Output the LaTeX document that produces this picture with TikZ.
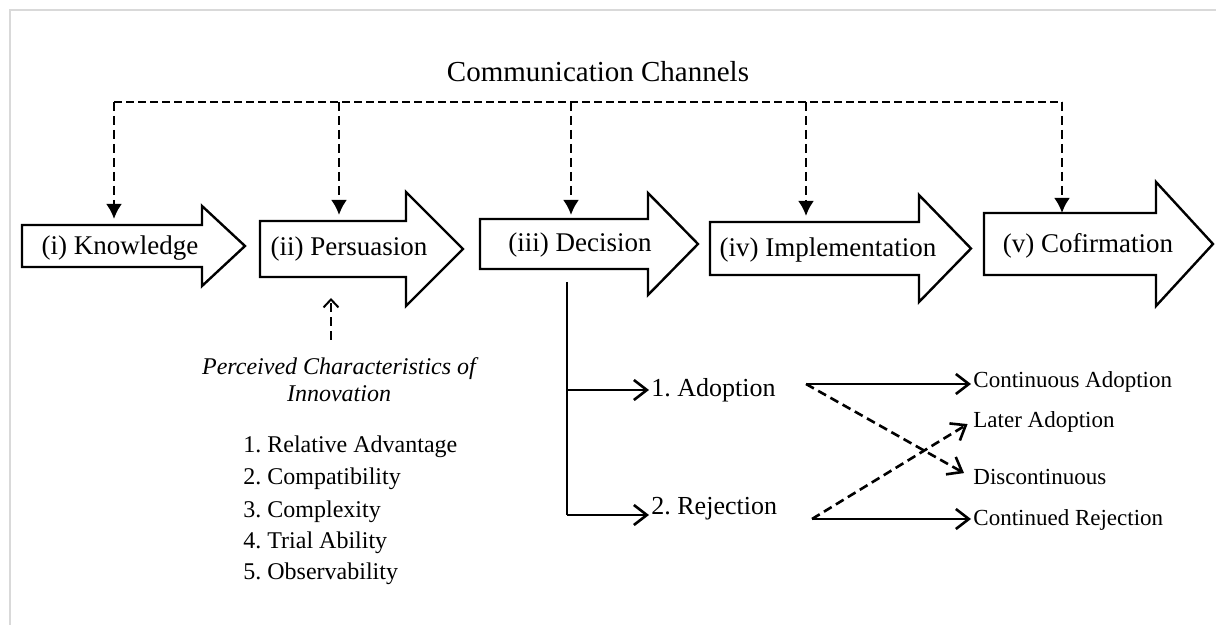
\documentclass[tikz,border=0pt]{standalone}
\usepackage{fontspec}
\setmainfont{Liberation Serif}
\frenchspacing
\usetikzlibrary{arrows.meta}

\tikzset{
  stagebody/.style={inner sep=0pt, outer sep=0pt},
  stageline/.style={line width=1.2pt, line join=miter},
  stagelabel/.style={font=\fontsize{13.5}{16}\selectfont, inner sep=0pt},
  chan/.style={line width=1.3pt, dash pattern=on 4.5pt off 2.5pt},
  branch/.style={line width=1.3pt},
  barb/.style={-{Straight Barb[length=6.5pt,width=10pt]}},
  choice/.style={anchor=west, inner sep=1pt, font=\fontsize{13}{15}\selectfont},
  outcome/.style={anchor=west, inner sep=1pt, font=\fontsize{11.5}{14}\selectfont},
  attr/.style={anchor=base west, inner sep=0pt, font=\fontsize{12}{14}\selectfont},
}

% stage arrow: name, body centre, body width, body height, head extend, head length
\newcommand\stagearrow[6]{%
  \node[stagebody, minimum width=#3, minimum height=#4] (#1) at (#2) {};
  \draw[stageline] (#1.north west) -- (#1.north east) -- ([yshift=#5]#1.north east)
    -- ([xshift=#6]#1.east) -- ([yshift=-#5]#1.south east) -- (#1.south east)
    -- (#1.south west) -- cycle;}

\begin{document}
\begin{tikzpicture}[x=0.5pt,y=-0.5pt]
    \useasboundingbox (0,0) rectangle (1216,625);
    \draw[black!15, line width=1pt] (10,625) -- (10,10) -- (1216,10);

    \stagearrow{knw}{112,246}{90pt}{21pt}{9.5pt}{21.5pt}
    \stagearrow{per}{333,249}{73pt}{28pt}{14.5pt}{28.5pt}
    \stagearrow{dec}{564,244}{84pt}{25pt}{13pt}{25pt}
    \stagearrow{imp}{814.5,248.5}{104.5pt}{26.5pt}{13.5pt}{26pt}
    \stagearrow{cof}{1070,244}{86pt}{31pt}{15.5pt}{28.5pt}

    \node[stagelabel] (knwlabel) at (120,248) {(i) Knowledge};
    \node[stagelabel] (perlabel) at (349,249) {(ii) Persuasion};
    \node[stagelabel] (declabel) at (580,245) {(iii) Decision};
    \node[stagelabel] (implabel) at (828,250) {(iv) Implementation};
    \node[stagelabel] (coflabel) at (1088,246) {(v) Cofirmation};

    % communication channels
    \node[font=\fontsize{14.5}{17}\selectfont] (cc) at (598,72) {Communication Channels};
    \coordinate (b1) at (114,102);
    \coordinate (b2) at (339,102);
    \coordinate (b3) at (571,102);
    \coordinate (b4) at (806,102);
    \coordinate (b5) at (1062,102);
    \draw[chan, dash pattern=on 4pt off 2pt] (b1) -- (b5);
    \draw[chan, -{Latex[length=7.5pt,width=8pt]}, shorten >=3pt] (b1) -- (b1 |- knw.north);
    \draw[chan, -{Latex[length=7.5pt,width=8pt]}, shorten >=3pt] (b2) -- (b2 |- per.north);
    \draw[chan, -{Latex[length=7.5pt,width=8pt]}, shorten >=2pt] (b3) -- (b3 |- dec.north);
    \draw[chan, -{Latex[length=7.5pt,width=8pt]}, shorten >=3pt] (b4) -- (b4 |- imp.north);
    \draw[chan, -{Latex[length=7.5pt,width=8pt]}] (b5) -- (b5 |- cof.north);

    % perceived characteristics
    \node[align=center, inner sep=0pt, anchor=north, font=\fontsize{12}{13.5}\selectfont\itshape]
      (pci) at (339,357.5) {Perceived Characteristics of\\Innovation};
    \coordinate (pup) at (331,340);
    \draw[chan, line width=1pt, -{Straight Barb[length=4pt,width=7.5pt]}, shorten >=10.5pt] (pup) -- (pup |- per.south);
    \node[attr] (a1) at (243,453) {1. Relative Advantage};
    \node[attr] (a2) at (243,485) {2. Compatibility};
    \node[attr] (a3) at (243,517) {3. Complexity};
    \node[attr] (a4) at (243,549) {4. Trial Ability};
    \node[attr] (a5) at (243,580) {5. Observability};

    % decision
    \node[choice] (adp) at (649,390) {1. Adoption};
    \node[choice] (rej) at (649,509) {2. Rejection};
    \coordinate (dtop) at (567,282);
    \draw[branch] (dtop) -- (dtop |- 0,515);
    \draw[branch, barb] (dtop |- adp.west) -- (adp.west);
    \draw[branch, barb] (dtop |- 0,515) -- (adp.west |- 0,515);

    \node[outcome] (cad) at (971,382) {Continuous Adoption};
    \node[outcome] (lad) at (971,422) {Later Adoption};
    \node[outcome] (dis) at (971,477) {Discontinuous};
    \node[outcome] (crj) at (971,520) {Continued Rejection};
    \coordinate (aout) at (806,384);
    \coordinate (rout) at (812,519);
    \draw[branch, barb] (aout) -- (aout -| cad.west);
    \draw[branch, barb] (rout) -- (rout -| crj.west);
    \draw[chan, barb, shorten >=4pt] (aout) -- (dis.west);
    \draw[chan, barb, shorten >=2pt] (rout) -- (lad.west);
\end{tikzpicture}
\end{document}
